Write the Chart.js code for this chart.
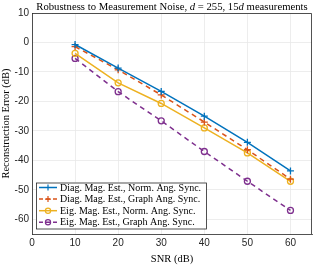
<!DOCTYPE html>
<html>
<head>
<meta charset="utf-8">
<script src="https://cdn.jsdelivr.net/npm/chart.js@4/dist/chart.umd.min.js"></script>
<style>
  html, body { margin: 0; padding: 0; background: #fff; }
  #wrap { width: 318px; height: 266px; position: relative; }
</style>
</head>
<body>
<div id="wrap"><canvas id="chart" width="318" height="266"></canvas></div>
<script>
// data
const snr = [10, 20, 30, 40, 50, 60];
const diagNorm  = [-0.7, -8.7, -16.6, -25.0, -33.9, -43.6];
const diagGraph = [-1.4, -9.3, -17.8, -27.0, -36.4, -46.4];
const eigNorm   = [-3.7, -13.7, -20.7, -29.0, -37.5, -47.1];
const eigGraph  = [-5.4, -16.7, -26.6, -37.0, -47.1, -57.0];
const seriesNames = [
    'Diag. Mag. Est., Norm. Ang. Sync.',
    'Diag. Mag. Est., Graph Ang. Sync.',
    'Eig. Mag. Est., Norm. Ang. Sync.',
    'Eig. Mag. Est., Graph Ang. Sync.'
];
const xTicks = [0, 10, 20, 30, 40, 50, 60];
const yTicks = [10, 0, -10, -20, -30, -40, -50, -60];

const SERIF = '"Liberation Serif", "DejaVu Serif", serif';
const SANS = '"Liberation Sans", Arial, sans-serif';

function pts(ys) {
    return snr.map((x, i) => ({ x: x, y: ys[i] }));
}

function makeSet(label, ys, color, dashed, marker) {
    return {
        label: label,
        data: pts(ys),
        borderColor: color,
        backgroundColor: marker === 'circle' ? 'rgba(0,0,0,0)' : color,
        borderWidth: 1.5,
        borderDash: dashed ? [5, 4] : [],
        pointStyle: marker,
        pointRadius: marker === 'circle' ? 3 : 3.5,
        pointBorderWidth: 1.3,
        pointBorderColor: color,
        pointHoverRadius: 3,
        tension: 0,
        fill: false
    };
}

// title with italic d, plus the top/right frame of the axes
const titlePlugin = {
    id: 'mathTitle',
    afterDraw(c) {
        const ctx = c.ctx;
        const a = c.chartArea;
        ctx.save();
        ctx.strokeStyle = '#262626';
        ctx.lineWidth = 0.8;
        ctx.beginPath();
        ctx.moveTo(a.left, a.top + 0.5);
        ctx.lineTo(a.right - 0.5, a.top + 0.5);
        ctx.lineTo(a.right - 0.5, a.bottom);
        ctx.stroke();

        const parts = [
            ['Robustness to Measurement Noise, ', ''],
            ['d', 'italic '],
            [' = 255, 15', ''],
            ['d', 'italic '],
            [' measurements', '']
        ];
        ctx.fillStyle = '#000';
        ctx.textBaseline = 'alphabetic';
        let total = 0;
        parts.forEach(p => { ctx.font = p[1] + '10.7px ' + SERIF; total += ctx.measureText(p[0]).width; });
        let x = (a.left + a.right) / 2 - total / 2;
        parts.forEach(p => {
            ctx.font = p[1] + '10.7px ' + SERIF;
            ctx.fillText(p[0], x, 10);
            x += ctx.measureText(p[0]).width;
        });
        ctx.restore();
    }
};

// legend box inside the axes, lower left
const boxLegend = {
    id: 'boxLegend',
    afterDraw(c) {
        const ctx = c.ctx;
        const a = c.chartArea;
        const x0 = a.left + 4, y0 = 182.5, w = 170, h = 46;
        ctx.save();
        ctx.fillStyle = '#fff';
        ctx.fillRect(x0, y0, w, h);
        ctx.strokeStyle = '#262626';
        ctx.lineWidth = 0.8;
        ctx.strokeRect(x0 + 0.5, y0 + 0.5, w, h);
        ctx.font = '10px ' + SERIF;
        ctx.textBaseline = 'middle';
        c.data.datasets.forEach((ds, i) => {
            const yy = y0 + 5 + i * 11.6;
            ctx.strokeStyle = ds.borderColor;
            ctx.lineWidth = 1.5;
            ctx.setLineDash(ds.borderDash.length ? [4, 3] : []);
            ctx.beginPath();
            ctx.moveTo(x0 + 3, yy);
            ctx.lineTo(x0 + 21, yy);
            ctx.stroke();
            ctx.setLineDash([]);
            ctx.lineWidth = 1.2;
            ctx.beginPath();
            if (ds.pointStyle === 'circle') {
                ctx.arc(x0 + 12, yy, 2.6, 0, Math.PI * 2);
            } else {
                ctx.moveTo(x0 + 9, yy); ctx.lineTo(x0 + 15, yy);
                ctx.moveTo(x0 + 12, yy - 3); ctx.lineTo(x0 + 12, yy + 3);
            }
            ctx.stroke();
            ctx.fillStyle = '#000';
            ctx.fillText(ds.label, x0 + 24, yy + 0.5);
        });
        ctx.restore();
    }
};

new Chart(document.getElementById('chart'), {
    type: 'line',
    data: {
        datasets: [
            makeSet(seriesNames[0], diagNorm, '#0072BD', false, 'cross'),
            makeSet(seriesNames[1], diagGraph, '#D95319', true, 'cross'),
            makeSet(seriesNames[2], eigNorm, '#EDB120', false, 'circle'),
            makeSet(seriesNames[3], eigGraph, '#7E2F8E', true, 'circle')
        ]
    },
    options: {
        responsive: false,
        animation: false,
        layout: { padding: { top: 13, right: 6, left: 0, bottom: 0 } },
        plugins: {
            legend: { display: false },
            title: { display: false },
            tooltip: { enabled: false }
        },
        scales: {
            x: {
                type: 'linear',
                min: 0, max: 65,
                afterBuildTicks: s => { s.ticks = xTicks.map(v => ({ value: v })); },
                afterFit: s => { s.height = 32; },
                grid: { color: '#e8e8e8', lineWidth: 0.8, tickLength: 0 },
                border: { color: '#262626', width: 0.8 },
                ticks: { color: '#262626', font: { family: SANS, size: 10 }, padding: 3, maxRotation: 0 },
                title: { display: true, text: 'SNR (dB)', color: '#000', font: { family: SERIF, size: 10.5 }, padding: { top: -3, bottom: 0 } }
            },
            y: {
                type: 'linear',
                min: -65, max: 10,
                afterBuildTicks: s => { s.ticks = yTicks.map(v => ({ value: v })); },
                afterFit: s => { s.width = 32; },
                grid: { color: '#e8e8e8', lineWidth: 0.8, tickLength: 0 },
                border: { color: '#262626', width: 0.8 },
                ticks: { color: '#262626', font: { family: SANS, size: 10 }, padding: 3 },
                title: { display: true, text: 'Reconstruction Error (dB)', color: '#000', font: { family: SERIF, size: 10.5 }, padding: { top: 0, bottom: 0 } }
            }
        }
    },
    plugins: [titlePlugin, boxLegend]
});
</script>
</body>
</html>
